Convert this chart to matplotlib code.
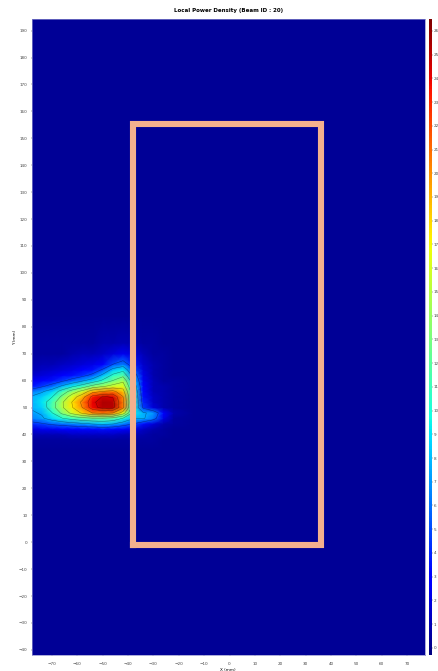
import numpy as np
import matplotlib
matplotlib.use("Agg")
import matplotlib.pyplot as plt

# grid nodes, mm
x_nodes = [-78, -74, -70, -66, -62, -58, -54, -50, -46, -42, -38, -34, -30, -26, -22, -14, 78]
y_nodes = [-42, 34, 38, 40, 42, 44, 46, 48, 50, 52, 54, 56, 58, 60, 62, 64, 66, 70, 74, 84, 195]

# power density, as fraction of the colour scale
bg = 0.02
density = [
    [bg] * 17,
    [bg] * 17,
    [.03, .03, .03, .03, .03, .03, .03, .03, .03, .03, .03, .03, .03, .02, .02, .02, .02],
    [.05, .05, .05, .05, .06, .06, .06, .06, .06, .05, .05, .04, .03, .03, .02, .02, .02],
    [.08, .10, .10, .11, .12, .13, .13, .14, .13, .11, .09, .06, .04, .03, .02, .02, .02],
    [.17, .19, .22, .24, .26, .28, .30, .32, .30, .25, .20, .14, .08, .04, .03, .02, .02],
    [.25, .28, .33, .38, .42, .45, .47, .47, .45, .38, .30, .30, .24, .09, .03, .02, .02],
    [.28, .30, .38, .50, .60, .68, .76, .78, .76, .62, .36, .30, .27, .12, .04, .02, .02],
    [.30, .33, .44, .56, .66, .76, .90, .95, .95, .78, .40, .18, .08, .04, .03, .02, .02],
    [.30, .35, .43, .56, .67, .78, .91, .96, .95, .78, .42, .16, .06, .04, .03, .02, .02],
    [.30, .33, .38, .50, .62, .72, .88, .93, .92, .76, .42, .14, .06, .04, .03, .02, .02],
    [.24, .28, .33, .42, .52, .60, .72, .76, .78, .70, .40, .13, .05, .04, .03, .02, .02],
    [.14, .18, .23, .30, .36, .42, .50, .55, .60, .62, .36, .12, .05, .04, .03, .02, .02],
    [.10, .12, .14, .18, .23, .28, .33, .40, .48, .55, .32, .10, .05, .03, .03, .02, .02],
    [.07, .08, .09, .11, .14, .17, .22, .31, .40, .45, .26, .09, .04, .03, .02, .02, .02],
    [.05, .06, .07, .08, .09, .11, .14, .21, .32, .36, .20, .08, .04, .03, .02, .02, .02],
    [.04, .05, .05, .06, .07, .08, .09, .12, .20, .25, .15, .07, .04, .03, .02, .02, .02],
    [.03, .03, .03, .03, .04, .05, .05, .06, .08, .10, .08, .05, .03, .03, .02, .02, .02],
    [.03, .03, .03, .03, .03, .03, .03, .04, .04, .05, .04, .03, .03, .02, .02, .02, .02],
    [bg] * 17,
    [bg] * 17,
]

# region outline, mm
box_x = [-37.9, 36.1, 36.1, -37.9, -37.9]
box_y = [-1.2, -1.2, 155.3, 155.3, -1.2]

x_ticks = list(range(-70, 71, 10))
y_ticks = list(range(-40, 191, 10))
cbar_ticks = list(range(0, 27))
contour_levels = [5, 7.5, 10, 12.5, 15, 17.5, 20, 22.5, 24.5]

Z = np.array(density) * 26.8 - 0.3

fig = plt.figure(figsize=(4.38, 6.71), dpi=100)
ax = fig.add_axes([32 / 438, 1 - 655 / 671, 392.5 / 438, 636 / 671])
mesh = ax.pcolormesh(x_nodes, y_nodes, Z, cmap="jet", vmin=-0.3, vmax=26.5, shading="gouraud")
ax.contour(x_nodes, y_nodes, Z, levels=contour_levels, colors="k", linewidths=0.35, alpha=0.45)
ax.plot(box_x, box_y, color="#f3b08e", lw=4.4, solid_joinstyle="miter")
ax.set_xlim(-77.9, 76.9)
ax.set_ylim(-41.9, 194.3)
ax.set_xticks(x_ticks)
ax.set_yticks(y_ticks)
ax.tick_params(labelsize=3, length=0.8, width=0.3, colors="#444444")
ax.tick_params(axis="x", pad=4)
ax.tick_params(axis="y", pad=2.5)
ax.set_xlabel("X (mm)", fontsize=3, labelpad=1.5)
ax.set_ylabel("Y (mm)", fontsize=3, labelpad=1.5)
ax.set_title("Local Power Density (Beam ID : 20)", fontsize=4, fontweight="bold", pad=5)
for s in ax.spines.values():
    s.set_linewidth(0.5)
    s.set_color("#8888cc")

cax = fig.add_axes([429 / 438, 1 - 655 / 671, 3 / 438, 636 / 671])
cb = fig.colorbar(mesh, cax=cax)
cb.set_ticks(cbar_ticks)
cb.ax.tick_params(labelsize=3, length=0.8, width=0.3, pad=0.5, colors="#444444")
cb.outline.set_linewidth(0)

fig.savefig("out.png", dpi=100)
